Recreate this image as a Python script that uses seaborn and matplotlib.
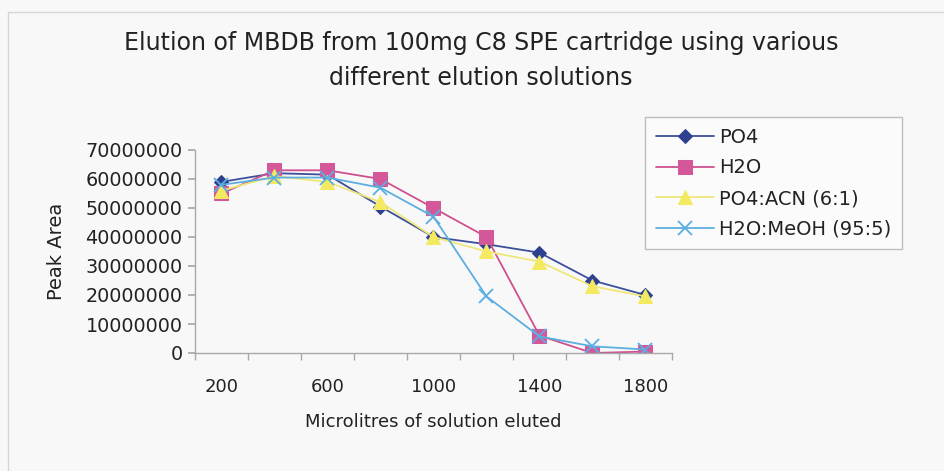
import numpy as np
import pandas as pd
import seaborn as sns
import matplotlib.pyplot as plt
from matplotlib.ticker import FixedLocator, FuncFormatter
from matplotlib.patches import Rectangle

# data
volumes = [200, 400, 600, 800, 1000, 1200, 1400, 1600, 1800]
po4 = [59000000, 62000000, 61500000, 50500000, 40000000, 37500000, 34600000, 25000000, 20000000]
h2o = [55000000, 63000000, 63000000, 60000000, 50000000, 40000000, 6000000, 0, 500000]
po4_acn = [56000000, 61000000, 59000000, 52000000, 40000000, 35000000, 31500000, 23000000, 19500000]
h2o_meoh = [58000000, 60500000, 60500000, 57000000, 47000000, 19500000, 5700000, 2300000, 1200000]

series_names = ["PO4", "H2O", "PO4:ACN (6:1)", "H2O:MeOH (95:5)"]
series_vals = [po4, h2o, po4_acn, h2o_meoh]

sns.set_theme(style="white")
plt.rcParams["font.family"] = ["DejaVu Sans"]

fig = plt.figure(figsize=(9.45, 4.71), dpi=100)
fig.patch.set_facecolor("#f8f8f8")
# chart area border (top/left visible in the scan)
fig.patches.append(Rectangle((8 / 945, -0.1), 1.2, 1.1 - 12 / 471, transform=fig.transFigure,
                             fill=False, edgecolor="#d6d6d6", linewidth=1.0))

ax = fig.add_axes([195 / 945, 1 - 353 / 471, (672 - 195) / 945, (353 - 150) / 471])
ax.set_facecolor("none")

styles = [
    dict(color="#3b4f9c", marker="D", markersize=7, markerfacecolor="#2d4190", markeredgecolor="#2d4190"),
    dict(color="#cf508e", marker="s", markersize=10, markerfacecolor="#d4579a", markeredgecolor="#d4579a"),
    dict(color="#f0e77a", marker="^", markersize=10, markerfacecolor="#f4ea62", markeredgecolor="#f4ea62"),
    dict(color="#5caee0", marker="x", markersize=10, markeredgecolor="#5caee0", markeredgewidth=1.3),
]

for name, vals, st in zip(series_names, series_vals, styles):
    df = pd.DataFrame({"volume": volumes, "area": vals})
    sns.lineplot(data=df, x="volume", y="area", ax=ax, label=name, linewidth=1.3, **st)

ax.set_xlim(100, 1900)
ax.set_ylim(0, 70000000)
ax.xaxis.set_major_locator(FixedLocator([200, 600, 1000, 1400, 1800]))
ax.xaxis.set_minor_locator(FixedLocator(list(range(100, 2000, 200))))
ax.yaxis.set_major_locator(FixedLocator(list(range(0, 70000001, 10000000))))
ax.yaxis.set_major_formatter(FuncFormatter(lambda v, p: f"{int(v)}"))

for side in ["top", "right"]:
    ax.spines[side].set_visible(False)
for side in ["left", "bottom"]:
    ax.spines[side].set_color("#a8a8a8")
    ax.spines[side].set_linewidth(1.0)

ax.tick_params(axis="x", which="major", length=0, pad=18, labelsize=13, colors="#222222")
ax.tick_params(axis="x", which="minor", length=5, color="#a8a8a8", direction="out", bottom=True)
ax.tick_params(axis="y", which="major", length=5, color="#a8a8a8", direction="out", left=True,
               labelsize=13.8, labelcolor="#222222", pad=4)

ax.set_xlabel("Microlitres of solution eluted", fontsize=13, color="#222222", labelpad=12)
ax.set_ylabel("Peak Area", fontsize=14, color="#222222", labelpad=14)

fig.text(481 / 945, 1 - 43 / 471, "Elution of MBDB from 100mg C8 SPE cartridge using various",
         ha="center", va="center", fontsize=17, color="#222222")
fig.text(481 / 945, 1 - 78 / 471, "different elution solutions",
         ha="center", va="center", fontsize=17, color="#222222")

leg = ax.legend(loc="upper left", bbox_to_anchor=(645 / 945, 1 - 117 / 471),
                bbox_transform=fig.transFigure, frameon=True, fancybox=False,
                fontsize=14, handlelength=3.0, handletextpad=0.25, labelspacing=0.6,
                borderpad=0.55, borderaxespad=0)
leg.get_frame().set_edgecolor("#b0b0b0")
leg.get_frame().set_facecolor("#fcfcfc")
leg.get_frame().set_linewidth(1.0)
for t in leg.get_texts():
    t.set_color("#222222")

fig.savefig("out.png", dpi=100, facecolor=fig.get_facecolor())
